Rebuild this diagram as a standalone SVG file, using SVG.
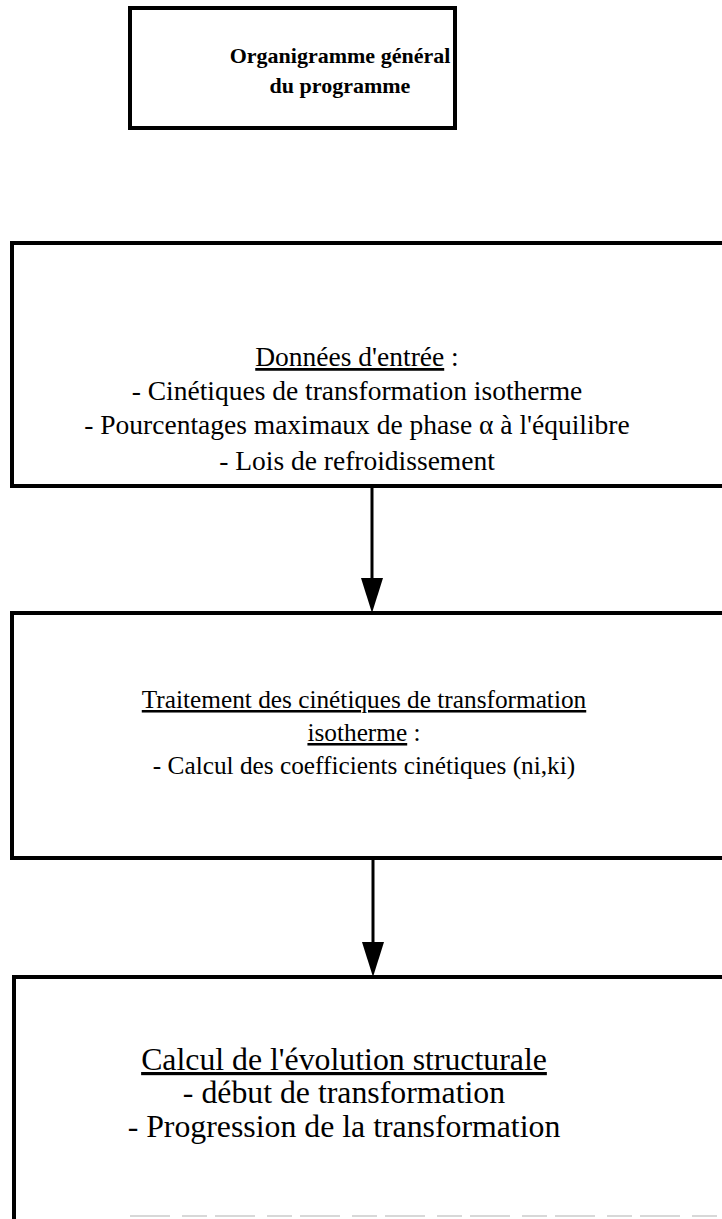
<svg xmlns="http://www.w3.org/2000/svg" width="722" height="1219" viewBox="0 0 722 1219">
<style>
.box{fill:none;stroke:#000;stroke-width:4}
.t{font-family:"Liberation Serif","Times New Roman",serif;font-size:27.5px;fill:#000;text-anchor:middle}
.p{font-family:"Liberation Serif","Times New Roman",serif;font-size:25.3px;fill:#000;text-anchor:middle}
.q{font-family:"Liberation Serif","Times New Roman",serif;font-size:31.8px;fill:#000;text-anchor:middle}
.h{font-family:"Liberation Serif","Times New Roman",serif;font-size:22px;font-weight:bold;fill:#000;text-anchor:middle}
.u{text-decoration:underline}
.c{stroke:#000;stroke-width:3;fill:none}
.head{fill:#000}
</style>
<rect width="722" height="1219" fill="#fff"/>
<g id="title">
<rect class="box" x="130" y="8" width="325" height="120"/>
<text class="h" x="340" y="63">Organigramme général</text>
<text class="h" x="340" y="93">du programme</text>
</g>
<g id="donnees">
<rect class="box" x="12" y="243" width="720" height="243"/>
<text class="t" x="357" y="366"><tspan class="u">Données d'entrée</tspan> :</text>
<text class="t" x="357" y="400">- Cinétiques de transformation isotherme</text>
<text class="t" x="357" y="434">- Pourcentages maximaux de phase α à l'équilibre</text>
<text class="t" x="357" y="470">- Lois de refroidissement</text>
</g>
<g id="traitement">
<rect class="box" x="12" y="613" width="720" height="245"/>
<text class="p" x="364" y="708" text-decoration="underline">Traitement des cinétiques de transformation</text>
<text class="p" x="364" y="741"><tspan class="u">isotherme</tspan> :</text>
<text class="p" x="364" y="774">- Calcul des coefficients cinétiques (ni,ki)</text>
</g>
<g id="calcul">
<path class="box" d="M14,1219 L14,977 L722,977"/>
<line x1="130" y1="1216" x2="722" y2="1216" stroke="#ccc" stroke-width="1.5" stroke-dasharray="40 12 25 8"/>
<text class="q" x="344" y="1070" text-decoration="underline">Calcul de l'évolution structurale</text>
<text class="q" x="344" y="1103">- début de transformation</text>
<text class="q" x="344" y="1137">- Progression de la transformation</text>
</g>
<g id="connectors">
<line class="c" x1="372" y1="487" x2="372" y2="580"/>
<path class="head" d="M361,578 L383,578 L372,613 Z"/>
<line class="c" x1="373" y1="860" x2="373" y2="944"/>
<path class="head" d="M362,942 L384,942 L373,977 Z"/>
</g>
</svg>
